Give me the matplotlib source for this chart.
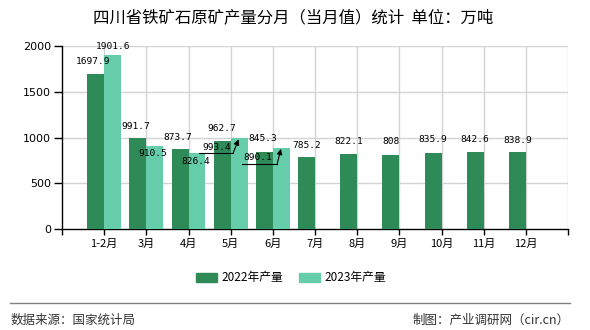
import matplotlib
matplotlib.use("Agg")
import matplotlib.pyplot as plt
import numpy as np
from matplotlib.lines import Line2D

plt.rcParams['font.family'] = ['Noto Sans CJK SC', 'DejaVu Sans']

months = ["1-2月", "3月", "4月", "5月", "6月", "7月", "8月", "9月", "10月", "11月", "12月"]
prod_2022 = [1697.9, 991.7, 873.7, 962.7, 845.3, 785.2, 822.1, 808, 835.9, 842.6, 838.9]
prod_2023 = [1901.6, 910.5, 826.4, 993.4, 890.1]
label_2022 = ["1697.9", "991.7", "873.7", "962.7", "845.3", "785.2", "822.1", "808", "835.9", "842.6", "838.9"]
label_2023 = ["1901.6", "910.5", "826.4", "993.4", "890.1"]
series_names = ["2022年产量", "2023年产量"]
yticks = [0, 500, 1000, 1500, 2000]

c22 = "#2E8B57"
c23 = "#66CDAA"

W, H = 590, 330
fig = plt.figure(figsize=(W / 100, H / 100), dpi=100)
ax = fig.add_axes([62 / W, 1 - 229 / H, (568 - 62) / W, (229 - 46) / H])

x = np.arange(1, len(months) + 1)
bw = 0.4
ax.bar(x - bw / 2, prod_2022, width=bw, color=c22, zorder=3, label=series_names[0])
x23 = x[:len(prod_2023)]
ax.bar(x23 + bw / 2, prod_2023, width=bw, color=c23, zorder=3, label=series_names[1])

ax.set_xlim(0, 12)
ax.set_ylim(0, 2000)
ax.set_yticks(yticks)
ax.set_yticklabels([str(v) for v in yticks], fontsize=8, family='DejaVu Sans')
ax.set_xticks(np.arange(0, 13))
ax.set_xticklabels([""] + months + [""], fontsize=8)
ax.tick_params(axis='y', length=6, width=1, color='black', pad=2)
ax.tick_params(axis='x', length=4, width=1, color='black', pad=3)

for v in yticks[1:]:
    ax.axhline(v, color="#d3d3d3", lw=1, zorder=1)
for xi in range(1, 13):
    ax.axvline(xi, color="#d3d3d3", lw=1, zorder=1)

for s in ["top", "right"]:
    ax.spines[s].set_visible(False)
ax.spines["left"].set_linewidth(1)
ax.spines["bottom"].set_linewidth(1)

lab_font = dict(fontsize=6.8, family='DejaVu Sans Mono', ha='center', va='center', zorder=5)

# label offsets in pixels (dx, dy) relative to bar top
off22 = [(-3, 12), (-2, 12), (-2, 12), (0, 12), (-2, 13), (0, 12), (0, 12), (0, 14), (0, 13), (0, 12), (0, 12)]
off23 = [(0, 9), (-2, -8), (-1, -8), (-22, -9), (-24, -10)]

for xi, v, t, (dx, dy) in zip(x, prod_2022, label_2022, off22):
    ax.annotate(t, xy=(xi - bw / 2, v), xytext=(dx, dy), textcoords='offset pixels', **lab_font)
for xi, v, t, (dx, dy) in zip(x23, prod_2023, label_2023, off23):
    ax.annotate(t, xy=(xi + bw / 2, v), xytext=(dx, dy), textcoords='offset pixels', **lab_font)

# leader lines for moved labels
leaders = [(3, (-40, -15), (-6, -15)), (4, (-39, -16), (-4, -16))]
for idx, p0, p1 in leaders:
    xb = x23[idx] + bw / 2
    yb = prod_2023[idx]
    off = ax.transData.transform((xb, yb))
    line = Line2D([off[0] + p0[0], off[0] + p1[0]], [off[1] + p0[1], off[1] + p1[1]],
                  transform=None, color='black', lw=0.8, zorder=6)
    fig.add_artist(line)
    ax.annotate('', xy=(xb, yb), xytext=p1, textcoords='offset pixels',
                arrowprops=dict(arrowstyle='-|>', color='black', lw=0.8, mutation_scale=8,
                                shrinkA=0, shrinkB=1), zorder=6)

fig.text(293 / W, 1 - 18 / H, "四川省铁矿石原矿产量分月（当月值）统计  单位：万吨",
         ha='center', va='center', fontsize=11.8)

handles = [plt.Rectangle((0, 0), 1, 1, color=c22), plt.Rectangle((0, 0), 1, 1, color=c23)]
fig.legend(handles, series_names, loc='center', bbox_to_anchor=(291 / W, 1 - 278 / H), ncol=2,
           frameon=False, fontsize=8.5, handlelength=1.75, handleheight=0.75,
           handletextpad=0.4, columnspacing=1.35)

fig.add_artist(Line2D([10 / W, 570 / W], [1 - 303 / H, 1 - 303 / H], color='#808080', lw=1))
fig.text(11 / W, 1 - 320 / H, "数据来源：国家统计局", ha='left', va='center', fontsize=9, color='#333333')
fig.text(570 / W, 1 - 320 / H, "制图：产业调研网（cir.cn）", ha='right', va='center', fontsize=9, color='#333333')

fig.savefig("out.png", dpi=100)
